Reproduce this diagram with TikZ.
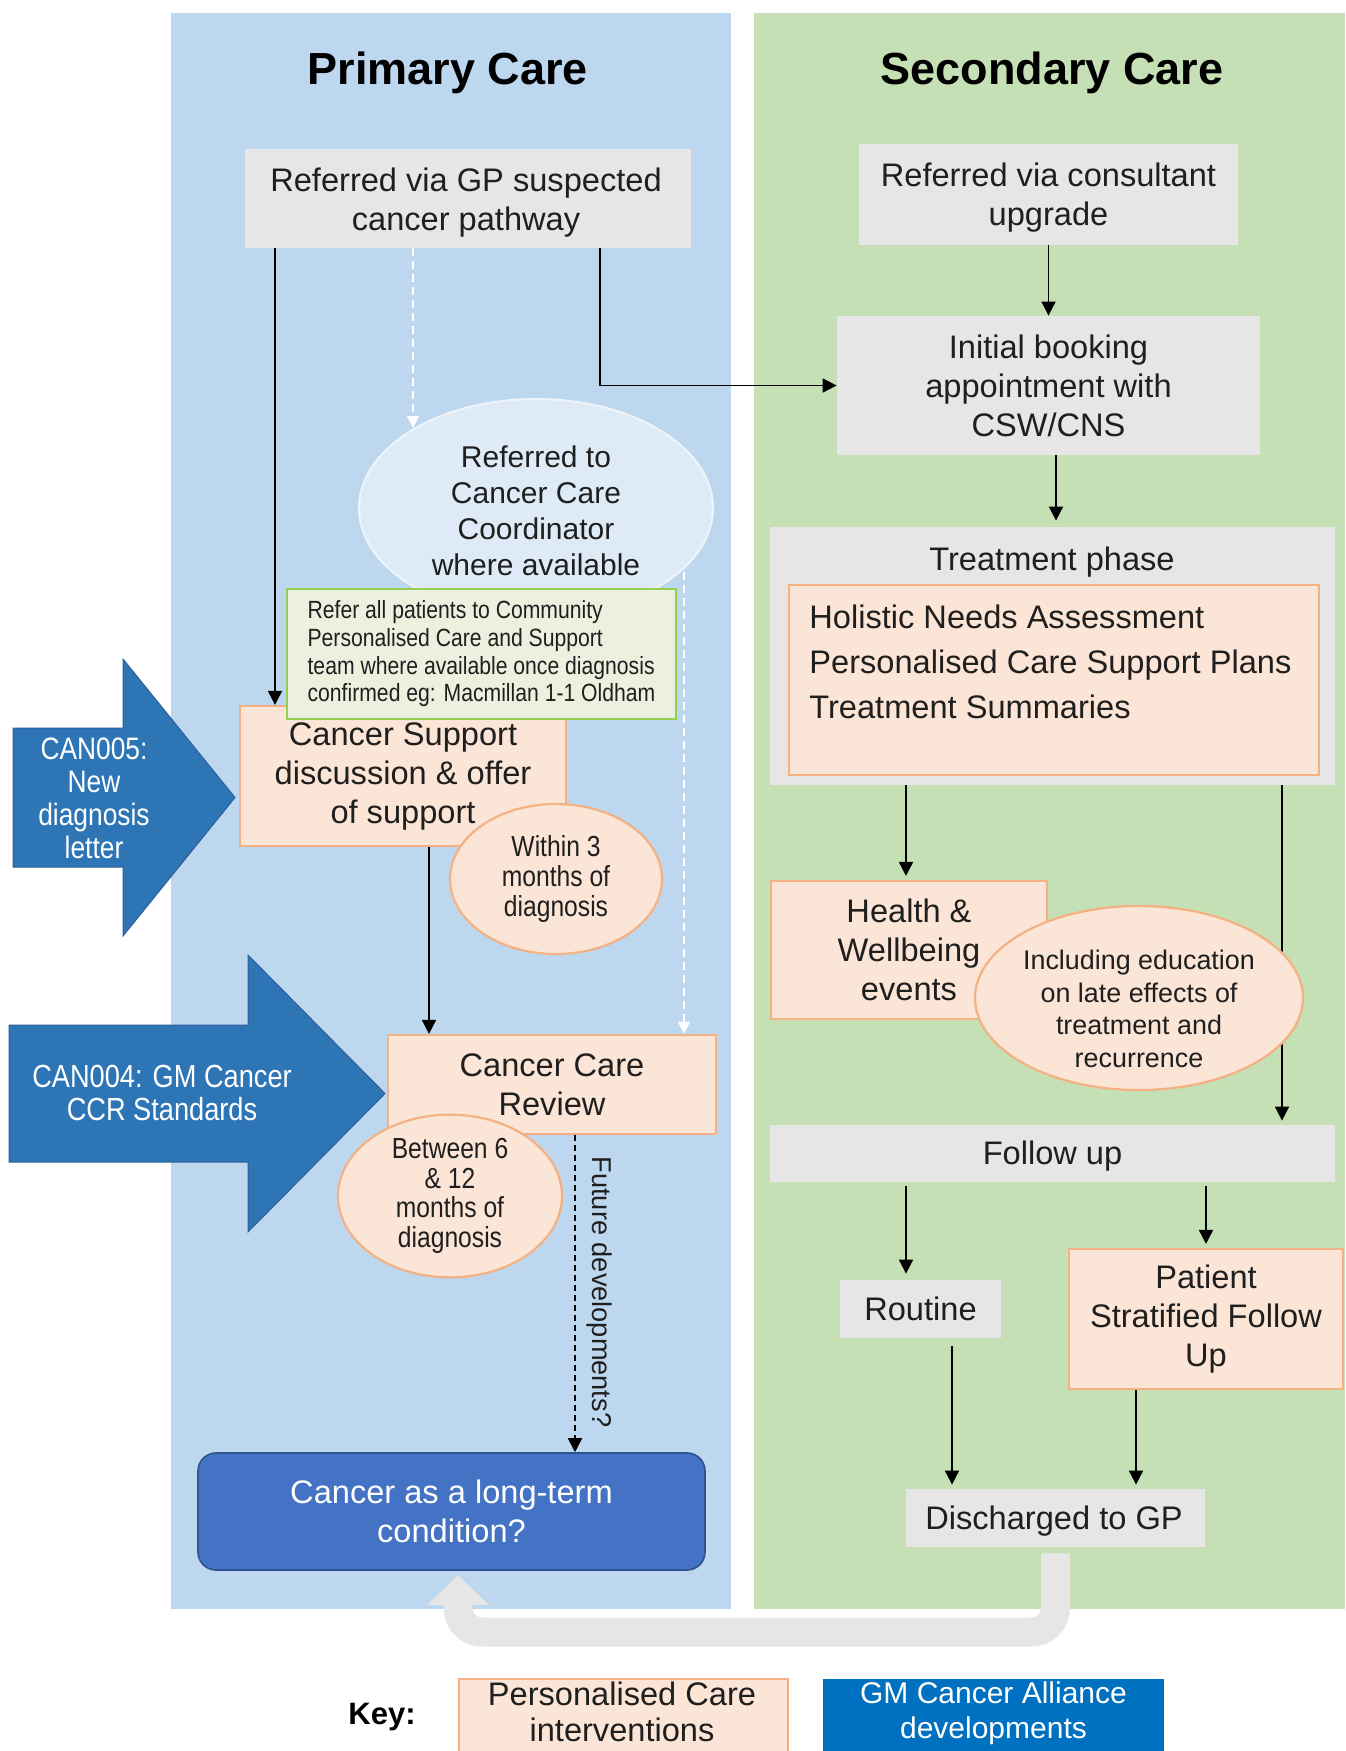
\documentclass[tikz,border=0pt]{standalone}
\usepackage{fontspec}
\setmainfont{Liberation Sans}
\newfontfamily\narrowsans[FakeStretch=0.85]{Liberation Sans}
\usetikzlibrary{arrows.meta,shapes.geometric}
\definecolor{panelblue}{HTML}{BDD7EE}
\definecolor{panelgreen}{HTML}{C5E0B4}
\definecolor{boxgray}{HTML}{E7E6E6}
\definecolor{pfill}{HTML}{FBE5D6}
\definecolor{pline}{HTML}{F4B183}
\definecolor{gfill}{HTML}{EBF1DE}
\definecolor{gline}{HTML}{92D050}
\definecolor{canblue}{HTML}{2E75B6}
\definecolor{canline}{HTML}{2F5F9A}
\definecolor{ltfill}{HTML}{4472C4}
\definecolor{ltline}{HTML}{2F528F}
\definecolor{keyblue}{HTML}{0070C0}
\definecolor{coordfill}{HTML}{DEEBF7}
\definecolor{coordline}{HTML}{EEF4FB}
\definecolor{txt}{HTML}{1F1F1F}
\definecolor{arrgray}{HTML}{E6E6E6}
\newcommand\myM{\fontsize{16.3}{19.5}\selectfont}
\newcommand\myT{\fontsize{22.5}{26}\selectfont\bfseries}
\newcommand\myCoord{\fontsize{15}{18}\selectfont}
\newcommand\myGreen{\narrowsans\fontsize{12.45}{13.85}\selectfont}
\newcommand\mySmall{\narrowsans\fontsize{14.5}{14.8}\selectfont}
\newcommand\myIncl{\fontsize{13.45}{16.35}\selectfont}
\newcommand\myCanA{\narrowsans\fontsize{15.5}{16.5}\selectfont}
\newcommand\myCanB{\narrowsans\fontsize{16}{16.2}\selectfont}
\newcommand\myFut{\fontsize{13.6}{16}\selectfont}
\newcommand\myHNA{\fontsize{16.3}{22.5}\selectfont}
\newcommand\myKey{\fontsize{15.5}{18}\selectfont\bfseries}
\newcommand\myKO{\fontsize{16.3}{18}\selectfont}
\newcommand\myKB{\fontsize{15}{17.5}\selectfont}
\begin{document}
\begin{tikzpicture}[x=0.5pt,y=-0.5pt,
  every node/.style={text=txt},
  gbox/.style={fill=boxgray, inner sep=0pt, align=center, font=\myM},
  obox/.style={fill=pfill, draw=pline, line width=1.1pt, inner sep=0pt, align=center, font=\myM},
  oell/.style={ellipse, fill=pfill, draw=pline, line width=1.1pt, inner sep=0pt, align=center},
  arr/.style={line width=0.9pt, -{Triangle[length=7pt,width=7pt]}},
  warr/.style={draw=white, line width=0.8pt, dash pattern=on 4pt off 2.5pt, -{Triangle[length=6pt,width=6pt]}},
  darr/.style={line width=0.9pt, dash pattern=on 3pt off 2pt, -{Triangle[length=7pt,width=7pt]}},
  canarrow/.style={fill=canblue, draw=canline, line width=0.5pt},
]
\useasboundingbox (0,0) rectangle (1345,1751);
\clip (0,0) rectangle (1345,1751);
\fill[white] (0,0) rectangle (1345,1751);

% panels
\fill[panelblue] (171,13) rectangle (731,1609);
\fill[panelgreen] (754,13) rectangle (1345,1609);
\node[font=\myT, text=black] (tp1) at (448,73) {Primary Care};
\node[font=\myT, text=black] (tp2) at (1052,73) {Secondary Care};

% blue block arrows
\draw[canarrow] (13,728) -- (123,728) -- (123,659) -- (235,797.5) -- (123,936) -- (123,867) -- (13,867) -- cycle;
\node[font=\myCanA, text=white, align=center] (can5) at (94,798) {CAN005:\\New\\diagnosis\\letter};
\draw[canarrow] (9,1025) -- (248,1025) -- (248,955) -- (385,1093.5) -- (248,1232) -- (248,1162) -- (9,1162) -- cycle;
\node[font=\myCanB, text=white, align=center] (can4) at (162,1093) {CAN004: GM Cancer\\CCR Standards};

% primary care nodes
\node[fill=boxgray, inner sep=0pt, minimum width=223pt, minimum height=49.5pt] (GP) at (468,198.5) {};
\node[font=\myM, align=center] (GPt) at (466,203) {Referred via GP suspected\\cancer pathway};
\node[ellipse, fill=coordfill, draw=coordline, line width=1pt, minimum width=177pt, minimum height=109pt, inner sep=0pt] (CO) at (536,508) {};
\node[font=\myCoord, align=center] (COt) at (536,511) {Referred to\\Cancer Care\\Coordinator\\where available};
\node[obox, minimum width=163pt, minimum height=70pt] (CS) at (403,776) {Cancer Support\\discussion \& offer\\of support};
\node[fill=gfill, draw=gline, line width=1.2pt, minimum width=194.5pt, minimum height=65pt, inner sep=0pt, align=left, font=\myGreen] (GR) at (481.5,654) {Refer all patients to Community\\Personalised Care and Support\\team where available once diagnosis\\confirmed eg: Macmillan 1-1 Oldham};
\node[oell, minimum width=106pt, minimum height=75pt, font=\mySmall] (W3) at (556,879) {Within 3\\months of\\diagnosis};
\node[obox, minimum width=164pt, minimum height=49.5pt] (CCR) at (552,1084.5) {Cancer Care\\Review};
\node[oell, minimum width=112pt, minimum height=80pt, font=\mySmall] (B6) at (450,1196) {Between 6\\\& 12\\months of\\diagnosis};
\node[fill=ltfill, draw=ltline, line width=0.8pt, rounded corners=9pt, minimum width=253.5pt, minimum height=58.5pt, inner sep=0pt, align=center, font=\myM, text=white] (LT) at (451.5,1511.5) {Cancer as a long-term\\condition?};

% coordinates for connectors
\coordinate (xa) at (275,0);
\coordinate (xb) at (600,0);
\coordinate (xc) at (413,0);
\coordinate (xd) at (429,0);
\coordinate (xe) at (575,0);
\coordinate (cE1) at (413,428);
\coordinate (cE2) at (684,572);

\draw[arr] (GP.south -| xa) -- (CS.north -| xa);
\draw[warr] (GP.south -| xc) -- (cE1);
\draw[warr] (cE2) -- (CCR.north -| cE2);
\draw[arr] (CS.south -| xd) -- (CCR.north -| xd);
\draw[darr] (CCR.south -| xe) -- (LT.north -| xe);
\node[font=\myFut, rotate=-90] (FD) at (600,1292) {Future developments?};

% secondary care nodes
\node[fill=boxgray, inner sep=0pt, minimum width=189.5pt, minimum height=50.5pt] (CU) at (1048.5,194.5) {};
\node[font=\myM, align=center] (CUt) at (1048.5,197.5) {Referred via consultant\\upgrade};
\node[gbox, minimum width=211.5pt, minimum height=69.5pt] (IB) at (1048.5,385.5) {Initial booking\\appointment with\\CSW/CNS};
\node[fill=boxgray, inner sep=0pt, minimum width=282.5pt, minimum height=129pt] (TP) at (1052.5,656) {};
\node[font=\myM] (TPt) at (1052,562) {Treatment phase};
\node[fill=pfill, draw=pline, line width=1.1pt, minimum width=265pt, minimum height=95pt, inner sep=0pt] (HNA) at (1054,680) {};
\node[font=\myHNA, align=left, anchor=west, inner sep=0pt] (HNAt) at (809,662) {Holistic Needs Assessment\\Personalised Care Support Plans\\Treatment Summaries};
\node[obox, minimum width=138pt, minimum height=69pt] (HW) at (909,950) {Health \&\\Wellbeing\\events};
\node[fill=boxgray, inner sep=0pt, minimum width=282.5pt, minimum height=28.5pt] (FU) at (1052.5,1153.5) {};
\node[font=\myM] (FUt) at (1052.5,1156.5) {Follow up};
\node[gbox, minimum width=80.5pt, minimum height=29pt] (RT) at (920.5,1309) {Routine};
\node[obox, minimum width=137pt, minimum height=70pt] (PS) at (1206,1319) {Patient\\Stratified Follow\\Up};
\node[fill=boxgray, inner sep=0pt, minimum width=149.5pt, minimum height=29pt] (DG) at (1055.5,1518) {};
\node[font=\myM] (DGt) at (1054,1521) {Discharged to GP};

\coordinate (xf) at (1056,0);
\coordinate (xg) at (906,0);
\coordinate (xh) at (1282,0);
\coordinate (xi) at (1206,0);
\coordinate (xj) at (952,0);
\coordinate (xk) at (1136,0);

\draw[arr] (GP.south -| xb) |- (IB.west);
\draw[arr] (CU.south) -- (IB.north);
\draw[arr] (IB.south -| xf) -- ([yshift=3pt]TP.north -| xf);
\draw[arr] (TP.south -| xg) -- ([yshift=2pt]HW.north -| xg);
\draw[arr] (TP.south -| xh) -- ([yshift=2pt]FU.north -| xh);
\node[oell, minimum width=164pt, minimum height=92pt] (IN) at (1139,998) {};
\node[font=\myIncl, align=center] (INt) at (1139,1009) {Including education\\on late effects of\\treatment and\\recurrence};
\draw[arr] ([yshift=-2pt]FU.south -| xg) -- ([yshift=3pt]RT.north -| xg);
\draw[arr] ([yshift=-2pt]FU.south -| xi) -- ([yshift=2pt]PS.north -| xi);
\draw[arr] ([yshift=-4pt]RT.south -| xj) -- ([yshift=2pt]DG.north -| xj);
\draw[arr] (PS.south -| xk) -- ([yshift=2pt]DG.north -| xk);

% big grey return arrow
\coordinate (g2) at (458,1632);
\coordinate (g3) at (458,1575);
\draw[arrgray, line width=14.5pt, rounded corners=12pt, -{Triangle[width=30pt,length=15pt]}] ([yshift=-3pt]DG.south) -- (DG.south |- g2) -- (g2) -- (g3);

% key
\node[font=\myKey, text=black] (KEY) at (382,1717) {Key:};
\node[fill=pfill, draw=pline, line width=1.1pt, inner sep=0pt, minimum width=164.5pt, minimum height=42pt] (KO) at (623.5,1721) {};
\node[font=\myKO, align=center] (KOt) at (622,1712) {Personalised Care\\interventions};
\node[fill=keyblue, inner sep=0pt, minimum width=170.5pt, minimum height=42pt] (KB) at (993.5,1721) {};
\node[font=\myKB, align=center, text=white] (KBt) at (993.5,1713) {GM Cancer Alliance\\developments};
\end{tikzpicture}
\end{document}
